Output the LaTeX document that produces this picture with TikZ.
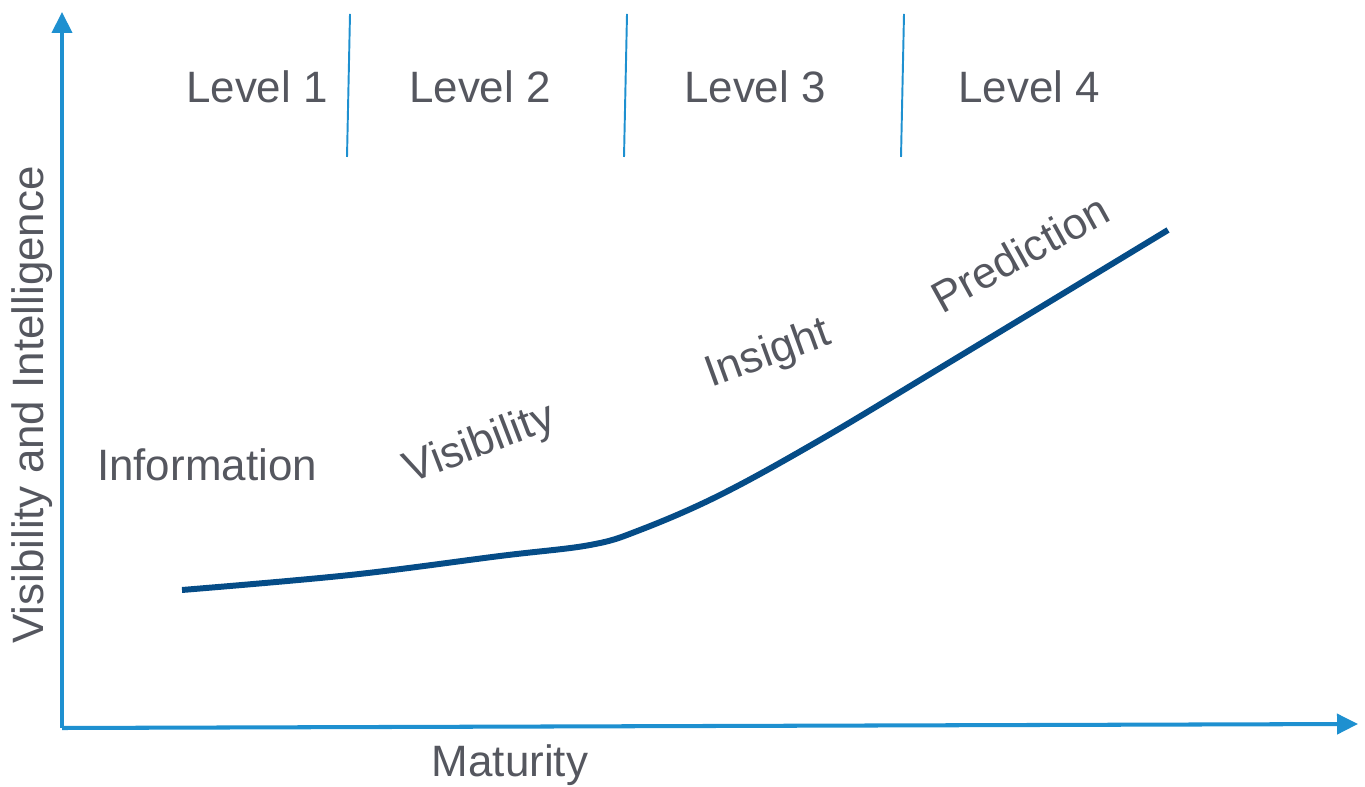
\documentclass[tikz,border=0pt]{standalone}
\usepackage{fontspec}
\setmainfont{Liberation Sans}
\usetikzlibrary{arrows.meta,positioning}
\definecolor{axisblue}{RGB}{30,144,208}
\definecolor{curveblue}{RGB}{5,76,135}
\definecolor{labelgray}{RGB}{85,87,95}
\tikzset{
    axis/.style={axisblue,line width=2.3pt,-{Triangle[length=0.42cm,width=0.4cm]}},
    level sep/.style={axisblue,line width=1.1pt},
    growth curve/.style={curveblue,line width=3.4pt},
    label text/.style={labelgray,inner sep=0pt,font=\fontsize{25}{29}\selectfont},
}

\begin{document}
\begin{tikzpicture}[x=0.02cm,y=0.02cm]
    \useasboundingbox (0,0) rectangle (1365,787);
    % axes
    \coordinate (origin) at (62,59);
    \coordinate (ytip) at (62,775);
    \coordinate (xtip) at (1358,63);
    \draw[axis] (origin) -- (ytip);
    \draw[axis] (origin) -- (xtip);
    \node[label text,rotate=90] (ylabel) at (32,382) {Visibility and Intelligence};
    \node[label text] (xlabel) at (510,22) {Maturity};

    % level separators
    \coordinate (sepA top) at (350,773); \coordinate (sepA bot) at (347,630);
    \coordinate (sepB top) at (627,773); \coordinate (sepB bot) at (624,630);
    \coordinate (sepC top) at (904,773); \coordinate (sepC bot) at (901,630);
    \draw[level sep] (sepA top) -- (sepA bot);
    \draw[level sep] (sepB top) -- (sepB bot);
    \draw[level sep] (sepC top) -- (sepC bot);
    \node[label text] (level1) at (257,700) {Level 1};
    \node[label text] (level2) at (480,700) {Level 2};
    \node[label text] (level3) at (755,700) {Level 3};
    \node[label text] (level4) at (1029,700) {Level 4};

    % the curve and its stages
    \draw[growth curve] plot[smooth,tension=0.6] coordinates
        {(182,197) (350,212) (500,231) (590,242) (640,257) (720,292) (820,347) (950,425) (1168,557)};
    \node[label text] (information) at (207,322) {Information};
    \node[label text,rotate=21] (visibility) at (480,342) {Visibility};
    \node[label text,rotate=20] (insight) at (768,432) {Insight};
    \node[label text,rotate=29] (prediction) at (1020,534) {Prediction};
\end{tikzpicture}
\end{document}
